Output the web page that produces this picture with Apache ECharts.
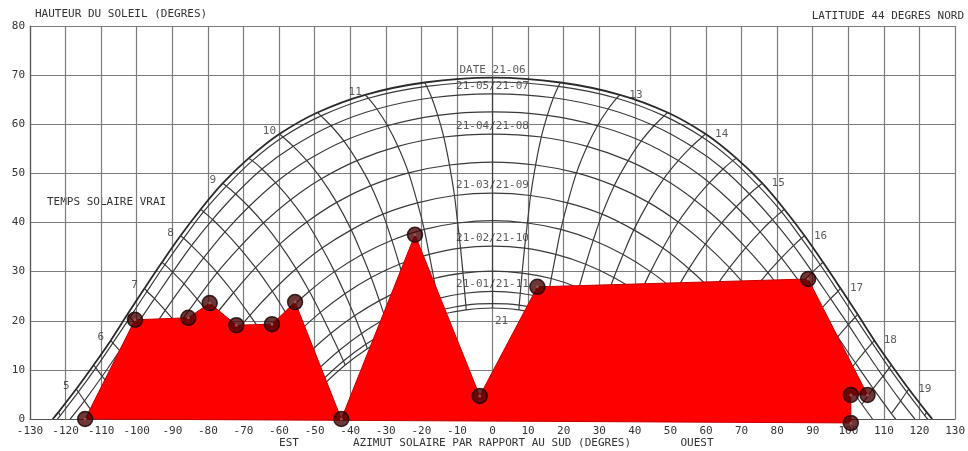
<!DOCTYPE html>
<html><head><meta charset="utf-8">
<script src="https://cdn.jsdelivr.net/npm/echarts@6/dist/echarts.min.js"></script>
<style>html,body{margin:0;padding:0;background:#fff}#c{width:968px;height:451px}</style>
</head><body><div id="c"></div>
<script>
// Sun paths (morning half, sunrise -> noon, every half hour), [azimuth, altitude]
const path_21_06 = [[-123.6,0],[-122.0,1.4],[-117.0,6.1],[-112.1,11.0],[-107.3,16.0],[-102.6,21.3],[-97.8,26.6],[-92.9,31.9],[-87.7,37.3],[-82.0,42.7],[-75.8,48.0],[-68.5,53.1],[-59.9,58.0],[-49.2,62.4],[-35.8,66.0],[-19.1,68.5],[0,69.5]];
const path_06_06 = [[-122.3,0],[-121.5,0.7],[-116.4,5.5],[-111.5,10.4],[-106.7,15.5],[-101.9,20.7],[-97.1,26.0],[-92.1,31.4],[-86.8,36.8],[-81.2,42.2],[-74.8,47.4],[-67.5,52.6],[-58.9,57.4],[-48.2,61.7],[-34.9,65.3],[-18.5,67.7],[0,68.6]];
const path_21_05 = [[-118.7,0],[-114.7,3.7],[-109.7,8.7],[-104.8,13.9],[-100.0,19.2],[-95.0,24.5],[-89.9,29.9],[-84.6,35.3],[-78.7,40.6],[-72.2,45.8],[-64.8,50.9],[-56.0,55.5],[-45.4,59.7],[-32.5,63.1],[-17.1,65.4],[0,66.2]];
const path_06_05 = [[-113.3,0],[-112.1,1.1],[-107.0,6.2],[-102.0,11.4],[-97.0,16.7],[-92.0,22.1],[-86.7,27.5],[-81.2,32.8],[-75.2,38.1],[-68.5,43.2],[-61.0,48.1],[-52.2,52.6],[-41.8,56.6],[-29.5,59.7],[-15.4,61.8],[0,62.5]];
const path_21_04 = [[-106.8,0],[-103.8,3.0],[-98.7,8.3],[-93.6,13.7],[-88.4,19.1],[-83.0,24.4],[-77.4,29.8],[-71.2,34.9],[-64.4,39.9],[-56.8,44.6],[-48.1,48.9],[-38.1,52.6],[-26.6,55.5],[-13.7,57.4],[0,58.0]];
const path_06_04 = [[-98.8,0],[-94.5,4.4],[-89.4,9.8],[-84.1,15.2],[-78.6,20.5],[-72.8,25.7],[-66.6,30.8],[-59.8,35.6],[-52.2,40.1],[-43.8,44.1],[-34.2,47.5],[-23.6,50.1],[-12.1,51.7],[0,52.3]];
const path_21_03 = [[-90,0],[-84.8,5.4],[-79.5,10.7],[-74.0,16.0],[-68.2,21.1],[-61.9,26.0],[-55.2,30.6],[-47.9,34.8],[-39.7,38.5],[-30.8,41.7],[-21.1,44.0],[-10.7,45.5],[0,46.0]];
const path_06_03 = [[-82.2,0],[-80.8,1.5],[-75.5,6.8],[-70.0,11.9],[-64.2,16.9],[-58.1,21.6],[-51.5,26.0],[-44.4,30.0],[-36.7,33.5],[-28.3,36.4],[-19.2,38.6],[-9.8,39.9],[0,40.4]];
const path_21_02 = [[-74.9,0],[-71.8,3.0],[-66.4,8.1],[-60.8,12.9],[-54.8,17.5],[-48.4,21.7],[-41.5,25.5],[-34.1,28.8],[-26.2,31.5],[-17.8,33.5],[-9.0,34.8],[0,35.2]];
const path_06_02 = [[-67.6,0],[-63.0,4.3],[-57.5,9.0],[-51.7,13.4],[-45.5,17.4],[-38.8,21.0],[-31.8,24.1],[-24.3,26.7],[-16.5,28.6],[-8.3,29.7],[0,30.1]];
const path_21_01 = [[-61.6,0],[-60.3,1.2],[-54.9,5.8],[-49.2,10.0],[-43.2,13.9],[-36.8,17.4],[-30.1,20.4],[-23.0,22.8],[-15.5,24.5],[-7.8,25.6],[0,26.0]];
const path_06_01 = [[-57.9,0],[-53.3,3.8],[-47.7,8.0],[-41.9,11.8],[-35.6,15.2],[-29.1,18.0],[-22.2,20.4],[-15.0,22.1],[-7.5,23.2],[0,23.5]];
const path_21_12 = [[-56.4,0],[-52.7,3.1],[-47.2,7.2],[-41.4,11.0],[-35.2,14.3],[-28.7,17.2],[-21.9,19.5],[-14.8,21.2],[-7.4,22.2],[0,22.6]];

const datePaths = [path_21_06,path_06_06,path_21_05,path_06_05,path_21_04,path_06_04,path_21_03,path_06_03,path_21_02,path_06_02,path_21_01,path_06_01,path_21_12];
const dateLabels = ['DATE 21-06','','21-05/21-07','','21-04/21-08','','21-03/21-09','','21-02/21-10','','21-01/21-11','','21'];
const hourLabels = [5,6,7,8,9,10,11,13,14,15,16,17,18,19];

// Horizon mask (relevé), in drawing order
const maskAz  = [-114.5,-100.5,-85.5,-79.5,-72.0,-62.0,-55.5,-42.5,-21.8,-3.6,12.6,88.7,105.4,100.7,100.7];
const maskAlt = [0,20.2,20.6,23.6,19.1,19.3,23.8,0,37.5,4.7,26.9,28.5,4.9,4.9,-0.8];

const FONT = 'DejaVu Sans Mono';
const TXT = '#333';
const LINE = '#3a3a3a';

function fullDay(m){
  const pm = m.slice(0,-1).reverse().map(p=>[-p[0],p[1]]);
  return m.concat(pm);
}
const series = [];
datePaths.forEach((m,i)=>{
  series.push({type:'line',data:fullDay(m),smooth:0.35,symbol:'none',silent:true,z:2,
    lineStyle:{color:i===0?'#2a2a2a':LINE,width:i===0?1.8:1.2}});
});
const maxK = Math.max(...datePaths.map(m=>m.length-1));
for(let k=0;k<maxK;k++){
  const pts = [];
  datePaths.forEach(m=>{const idx=m.length-1-k; if(idx>=1) pts.push(m[idx]);});
  if(pts.length<2) continue;
  series.push({type:'line',data:pts,smooth:0.3,symbol:'none',silent:true,z:2,lineStyle:{color:LINE,width:1.2}});
  if(k>0) series.push({type:'line',data:pts.map(p=>[-p[0],p[1]]),smooth:0.3,symbol:'none',silent:true,z:2,lineStyle:{color:LINE,width:1.2}});
}
// hour labels on the 21-06 path
const hourData = hourLabels.map(h=>{
  const k = Math.abs(h-12)*2;
  const p = path_21_06[path_21_06.length-1-k];
  const am = h<12;
  return {value: am?p:[-p[0],p[1]], label:{formatter:String(h), offset: am?[-10,-3]:[16,0]}};
});
series.push({type:'scatter',data:hourData,symbolSize:0,silent:true,z:7,clip:false,
  label:{show:true,position:'inside',color:TXT,fontSize:11,fontFamily:FONT}});
// date labels at noon of labelled paths
const dateData = [];
datePaths.forEach((m,i)=>{
  if(!dateLabels[i]) return;
  const last = i===datePaths.length-1;
  dateData.push({value:m[m.length-1], label:{formatter:dateLabels[i], position:last?'bottom':'top', distance:last?8:2, offset:last?[9,0]:[0,0]}});
});
series.push({type:'scatter',data:dateData,symbolSize:0,silent:true,z:7,clip:false,
  label:{show:true,color:TXT,fontSize:11,fontFamily:FONT}});
// mask polygon
const maskData = maskAz.map((a,i)=>[a,maskAlt[i]]);
series.push({type:'custom',data:maskData,z:5,silent:true,clip:false,
  renderItem:(params,api)=>{
    if(params.dataIndex!==0) return null;
    return {type:'polygon',shape:{points:maskData.map(d=>api.coord(d))},
      style:{fill:'#ff0000',stroke:'#c80000',lineWidth:1}};
  }});
series.push({type:'scatter',data:maskData,symbolSize:15,silent:true,z:6,clip:false,
  itemStyle:{color:'#4a0505',borderColor:'#150000',borderWidth:1.5}});
series.push({type:'scatter',data:maskData,symbolSize:3,silent:true,z:6,clip:false,
  itemStyle:{color:'#a06060'}});

const chart = echarts.init(document.getElementById('c'),null,{renderer:'canvas'});
chart.setOption({
  animation:false,
  backgroundColor:'#fff',
  grid:{left:30,right:6,top:26,bottom:32},
  xAxis:{type:'value',min:-130,max:130,interval:10,
    axisLine:{show:true,onZero:false,lineStyle:{color:'#555',width:1.2}},axisTick:{show:false},
    axisLabel:{color:TXT,fontSize:11,fontFamily:FONT,margin:7},
    splitLine:{show:true,lineStyle:{color:'#7c7c7c',width:1.2}}},
  yAxis:{type:'value',min:0,max:80,interval:10,
    axisLine:{show:true,onZero:false,lineStyle:{color:'#555',width:1.2}},axisTick:{show:false},
    axisLabel:{color:TXT,fontSize:11,fontFamily:FONT,margin:5},
    splitLine:{show:true,lineStyle:{color:'#7c7c7c',width:1.2}}},
  graphic:[
    {type:'text',x:35,y:14,style:{text:'HAUTEUR DU SOLEIL (DEGRES)',font:'11px "'+FONT+'"',fill:TXT,verticalAlign:'middle'}},
    {type:'text',x:964,y:16,style:{text:'LATITUDE 44 DEGRES NORD',font:'11px "'+FONT+'"',fill:TXT,align:'right',verticalAlign:'middle'}},
    {type:'text',x:47,y:202,style:{text:'TEMPS SOLAIRE VRAI',font:'11px "'+FONT+'"',fill:TXT,verticalAlign:'middle'}},
    {type:'text',x:289,y:443,style:{text:'EST',font:'11px "'+FONT+'"',fill:TXT,align:'center',verticalAlign:'middle'}},
    {type:'text',x:492,y:443,style:{text:'AZIMUT SOLAIRE PAR RAPPORT AU SUD (DEGRES)',font:'11px "'+FONT+'"',fill:TXT,align:'center',verticalAlign:'middle'}},
    {type:'text',x:697,y:443,style:{text:'OUEST',font:'11px "'+FONT+'"',fill:TXT,align:'center',verticalAlign:'middle'}}
  ],
  series
});
</script></body></html>
